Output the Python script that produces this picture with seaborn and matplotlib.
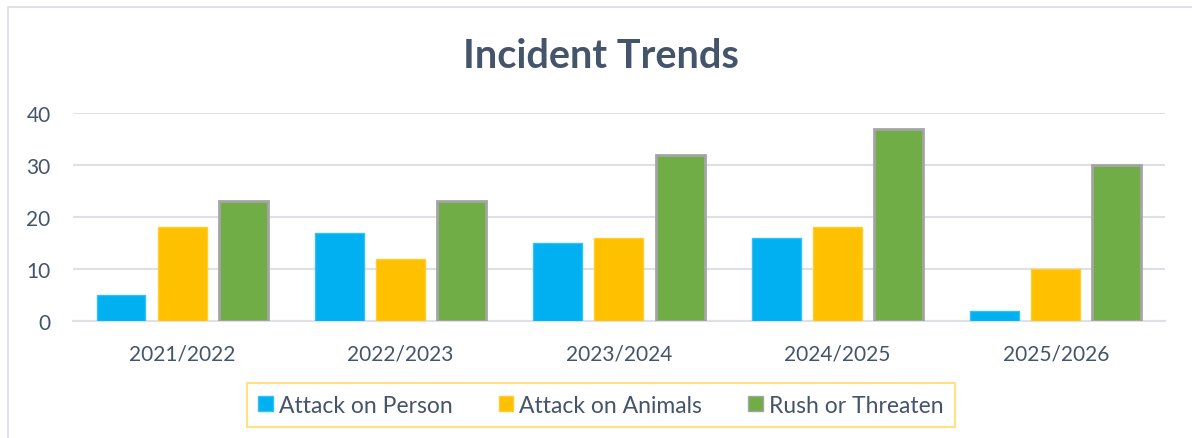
import matplotlib.pyplot as plt
import matplotlib.patches as mpatches
import seaborn as sns
import pandas as pd

# Chart data
seasons = ["2021/2022", "2022/2023", "2023/2024", "2024/2025", "2025/2026"]
attack_person = [5, 17, 15, 16, 2]
attack_animals = [18, 12, 16, 18, 10]
rush_threaten = [23, 23, 32, 37, 30]

series_names = ["Attack on Person", "Attack on Animals", "Rush or Threaten"]
colors = ["#00B0F0", "#FFC000", "#70AD47"]
edges = ["#33C0F3", "#FFCD33", "#A5A5A5"]

# Long-format table for seaborn
df = pd.DataFrame({
    "season": seasons * 3,
    "count": attack_person + attack_animals + rush_threaten,
    "type": [s for s in series_names for _ in seasons],
})

sns.set_style("white")
plt.rcParams["font.family"] = ["Lato", "DejaVu Sans"]
text_color = "#44546A"
grid_color = "#DDE1E6"

fig = plt.figure(figsize=(11.92, 4.39), dpi=100)
ax = fig.add_axes([0.0612, 0.2665, 0.9161, 0.4738])

sns.barplot(data=df, x="season", y="count", hue="type", hue_order=series_names,
            palette=colors, saturation=1, width=0.84, gap=0.2, ax=ax,
            legend=False, zorder=3)

# Edge colours per series
for container, ec, lw in zip(ax.containers, edges, [1.0, 1.0, 2.0]):
    for bar in container:
        bar.set_edgecolor(ec)
        bar.set_linewidth(lw)

ax.set_ylim(0, 40)
ax.set_yticks([0, 10, 20, 30, 40])
ax.yaxis.grid(True, color=grid_color, linewidth=1.5, zorder=0)
ax.set_axisbelow(True)
for side in ["top", "right", "left"]:
    ax.spines[side].set_visible(False)
ax.spines["bottom"].set_color(grid_color)
ax.spines["bottom"].set_linewidth(1.5)
ax.tick_params(axis="both", length=0, labelsize=15, labelcolor=text_color)
ax.tick_params(axis="x", pad=16)
ax.tick_params(axis="y", pad=16)
ax.set_xlabel("")
ax.set_ylabel("")

fig.text(0.504, 0.872, "Incident Trends", ha="center", va="center",
         fontsize=28.5, fontweight="bold", color=text_color)

# Legend
handles = [mpatches.Patch(facecolor=c, edgecolor=e, label=n)
           for c, e, n in zip(colors, edges, series_names)]
leg = fig.legend(handles=handles, loc="center", bbox_to_anchor=(0.504, 0.075),
                 ncol=3, fontsize=16.5, frameon=True, fancybox=False,
                 handlelength=0.65, handleheight=0.65, handletextpad=0.25,
                 columnspacing=2.0, borderpad=0.5)
leg.get_frame().set_edgecolor("#FFD966")
leg.get_frame().set_linewidth(1.5)
for t in leg.get_texts():
    t.set_color(text_color)

# Outer chart border
fig.patches.append(mpatches.Rectangle((8 / 1192, -0.1), 1.2, 1 - 8 / 439 + 0.1,
                                      transform=fig.transFigure, fill=False,
                                      edgecolor="#D9DDE3", linewidth=1.2))

fig.savefig("out.png", dpi=100)
